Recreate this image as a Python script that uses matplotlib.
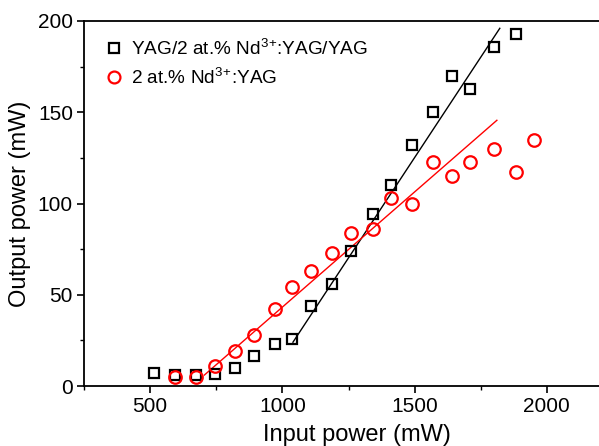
import matplotlib
matplotlib.use("Agg")
import matplotlib.pyplot as plt
from matplotlib.ticker import MultipleLocator

plt.rcParams['font.family'] = ['Liberation Sans', 'DejaVu Sans']
plt.rcParams['mathtext.fontset'] = 'custom'
plt.rcParams['mathtext.rm'] = 'Liberation Sans'

# Data
black_x = [515, 595, 675, 746, 822, 894, 974, 1038, 1110, 1186, 1258, 1341, 1409,
           1489, 1568, 1640, 1708, 1799, 1883]
black_y = [7, 6, 6, 6.5, 10, 16.5, 23, 26, 44, 56, 74, 94, 110, 132, 150, 170, 163, 186, 193]
red_x = [595, 674, 746, 822, 894, 974, 1038, 1110, 1186, 1258, 1341, 1409, 1489,
         1568, 1640, 1708, 1799, 1883, 1950]
red_y = [5, 5, 11, 19, 28, 42, 54, 63, 73, 84, 86, 103, 100, 123, 115, 123, 130, 117, 135]
black_fit_x = [1040, 1822]
black_fit_y = [24, 196]
red_fit_x = [705, 1811]
red_fit_y = [6, 145.6]

label_black = r'YAG/2 at.% Nd$^{\mathregular{3}}$$^{\mathregular{+}}$:YAG/YAG'
label_red = r'2 at.% Nd$^{\mathregular{3}}$$^{\mathregular{+}}$:YAG'

fig = plt.figure(figsize=(5.99, 4.46), dpi=100)
ax = fig.add_axes([84/599, 60/446, 529/599, 365/446])

ax.plot(black_fit_x, black_fit_y, color='black', lw=1.0)
ax.plot(red_fit_x, red_fit_y, color='red', lw=1.0)
ax.plot(black_x, black_y, 's', mfc='none', mec='black', ms=7.5, mew=1.6, label=label_black)
ax.plot(red_x, red_y, 'o', mfc='none', mec='red', ms=9, mew=1.6, label=label_red)

ax.set_xlim(250, 2250)
ax.set_ylim(0, 200)
ax.xaxis.set_major_locator(MultipleLocator(500))
ax.xaxis.set_minor_locator(MultipleLocator(250))
ax.yaxis.set_major_locator(MultipleLocator(50))
ax.yaxis.set_minor_locator(MultipleLocator(25))
ax.tick_params(which='major', direction='out', length=5, width=1.2, labelsize=15, pad=3)
ax.tick_params(which='minor', direction='out', length=3, width=1.0)
for s in ax.spines.values():
    s.set_linewidth(1.3)

ax.set_xlabel('Input power (mW)', fontsize=17, labelpad=6)
ax.xaxis.label.set_x(0.516)
ax.set_ylabel('Output power (mW)', fontsize=17, labelpad=5)

ax.legend(loc='upper left', frameon=False, fontsize=13.7, handletextpad=0.3,
          handlelength=1.2, borderaxespad=0.3, labelspacing=0.42, markerscale=0.95,
          bbox_to_anchor=(0.01, 0.99))

fig.savefig('out.png', dpi=100)
